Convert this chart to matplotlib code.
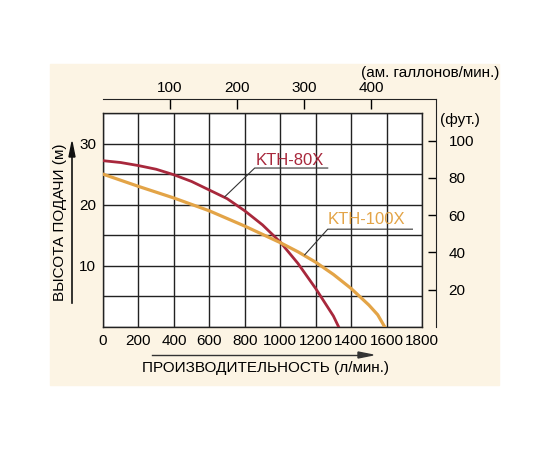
import matplotlib
matplotlib.use('Agg')
import matplotlib.pyplot as plt
from matplotlib.patches import Rectangle

plt.rcParams['font.family'] = ['Liberation Sans', 'DejaVu Sans']

# данные кривых (л/мин -> м)
flow_80 = [0, 100, 200, 300, 400, 500, 600, 700, 800, 900, 1000, 1100, 1200, 1260, 1300, 1330]
head_80 = [27.2, 26.9, 26.4, 25.8, 24.9, 23.8, 22.4, 21.0, 19.0, 16.7, 13.9, 10.4, 6.3, 3.6, 1.8, 0]
flow_100 = [0, 200, 400, 600, 800, 1000, 1100, 1200, 1300, 1400, 1500, 1550, 1590]
head_100 = [25, 23, 21.1, 19.0, 16.5, 13.8, 12.3, 10.6, 8.6, 6.3, 3.6, 2.0, 0]

x_ticks = [0, 200, 400, 600, 800, 1000, 1200, 1400, 1600, 1800]
y_grid = [0, 5, 10, 15, 20, 25, 30, 35]
y_labels = ['', '', '10', '', '20', '', '30', '']
gal_ticks = [100, 200, 300, 400]
ft_ticks = [20, 40, 60, 80, 100]

RED = '#a8283c'
ORANGE = '#e3a447'
CREAM = '#fcf4e4'
W, H = 550, 450


def fx(px):
    return px / W


def fy(py):
    return 1 - py / H


fig = plt.figure(figsize=(5.5, 4.5), dpi=100)
fig.patch.set_facecolor('white')
fig.patches.append(Rectangle((fx(50), fy(385)), fx(449), 321 / H,
                             transform=fig.transFigure, color=CREAM, zorder=-5))

# основная область
L, R, T, B = 103, 422, 113, 327
ax = fig.add_axes([fx(L), fy(B), fx(R - L), (B - T) / H])
ax.set_facecolor('white')
ax.set_xlim(0, 1800)
ax.set_ylim(0, 35)
ax.set_xticks(x_ticks)
ax.set_yticks(y_grid)
ax.set_yticklabels(y_labels)
ax.tick_params(length=0, labelsize=11, pad=5)
ax.grid(True, color='#222222', lw=1.0)
for s in ax.spines.values():
    s.set_color('#222222')
    s.set_linewidth(1.0)

ax.plot(flow_80, head_80, color=RED, lw=2.0, zorder=3)
ax.plot(flow_100, head_100, color=ORANGE, lw=2.3, zorder=3)

# подписи кривых
ax.text(862, 27.3, 'KTH-80X', color=RED, fontsize=12, va='center', ha='left')
ax.plot([687, 856, 1268], [21.3, 26.0, 26.0], color='#333333', lw=0.8, zorder=4)
ax.text(1268, 17.5, 'KTH-100X', color=ORANGE, fontsize=12, va='center', ha='left',
        clip_on=False)
ax.plot([1138, 1268, 1746], [11.8, 16.0, 16.0], color='#333333', lw=0.8, zorder=4,
        clip_on=False)

# верхняя шкала (галлоны)
top_right = 436
gal_max = 1800 * (top_right - L) / (R - L) / 3.785
axt = fig.add_axes([fx(L), fy(99), fx(top_right - L), 0.0001])
axt.set_xlim(0, gal_max)
axt.set_xticks(gal_ticks)
axt.set_yticks([])
axt.patch.set_alpha(0)
for k in ['top', 'left', 'right']:
    axt.spines[k].set_visible(False)
axt.spines['bottom'].set_color('#222222')
axt.tick_params(axis='x', bottom=True, top=False, labelbottom=False, labeltop=True,
                direction='out', length=7, width=1.0, labelsize=11, pad=-4.5)

# правая шкала (футы)
m_top = (B - 99) / ((B - T) / 35)
axr = fig.add_axes([fx(top_right), fy(B), 0.0001, (B - 99) / H])
axr.set_ylim(0, m_top * 3.281)
axr.set_yticks(ft_ticks)
axr.set_xticks([])
axr.patch.set_alpha(0)
for k in ['top', 'bottom', 'right']:
    axr.spines[k].set_visible(False)
axr.spines['left'].set_color('#222222')
axr.tick_params(axis='y', left=True, right=False, labelleft=False, labelright=True,
                direction='out', length=6, width=1.0, labelsize=11, pad=3)

fig.text(fx(440), fy(120), '(фут.)', fontsize=11, ha='left', va='center')
fig.text(fx(499), fy(73), '(ам. галлонов/мин.)', fontsize=11, ha='right', va='center')

# подписи осей со стрелками
fig.text(fx(266), fy(368), 'ПРОИЗВОДИТЕЛЬНОСТЬ (л/мин.)', fontsize=11,
         ha='center', va='center')
fig.add_artist(plt.Line2D([fx(152), fx(362)], [fy(355), fy(355)], color='#333333', lw=1.0))
fig.patches.append(plt.Polygon([[fx(373), fy(355)], [fx(358), fy(352)], [fx(358), fy(358)]],
                               closed=True, transform=fig.transFigure, color='#333333'))

fig.text(fx(60), fy(222), 'ВЫСОТА ПОДАЧИ (м)', fontsize=11, rotation=90,
         ha='center', va='center')
fig.add_artist(plt.Line2D([fx(72), fx(72)], [fy(303), fy(155)], color='#111111', lw=1.2))
fig.patches.append(plt.Polygon([[fx(72), fy(142)], [fx(69), fy(157)], [fx(75), fy(157)]],
                               closed=True, transform=fig.transFigure, color='#111111'))

fig.savefig('out.png', dpi=100)
